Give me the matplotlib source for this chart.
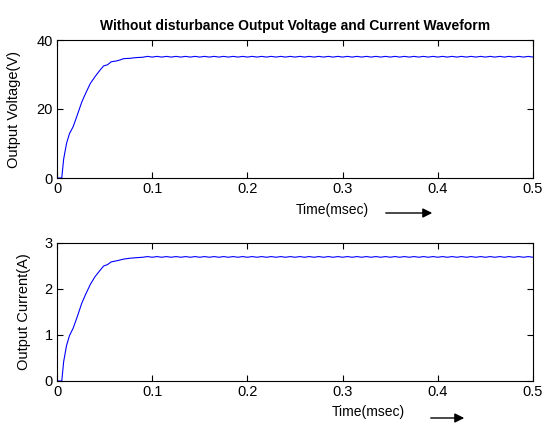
import matplotlib
matplotlib.use("Agg")
import matplotlib.pyplot as plt
import numpy as np

plt.rcParams['font.family'] = ['Liberation Sans', 'DejaVu Sans']

# Rise portion (time in msec)
t_rise = [0.0, 0.003, 0.005, 0.007, 0.010, 0.013, 0.017, 0.021, 0.026, 0.030,
          0.035, 0.040, 0.045, 0.049, 0.053, 0.057, 0.062, 0.066, 0.070, 0.077,
          0.083, 0.090]
v_rise = [0.0, 0.0, 0.0, 5.5, 10.0, 12.8, 14.9, 18.0, 22.0, 24.5,
          27.4, 29.4, 31.2, 32.5, 32.8, 33.7, 33.9, 34.2, 34.6, 34.7,
          34.9, 35.0]
i_rise = [0.0, 0.0, 0.0, 0.42, 0.77, 0.98, 1.15, 1.38, 1.69, 1.88,
          2.10, 2.27, 2.40, 2.50, 2.53, 2.59, 2.61, 2.63, 2.65, 2.67,
          2.68, 2.69]

# Steady-state ripple portion
t_ss = [0.095, 0.100, 0.105, 0.110, 0.115, 0.120, 0.125, 0.130, 0.135, 0.140,
        0.145, 0.150, 0.155, 0.160, 0.165, 0.170, 0.175, 0.180, 0.185, 0.190,
        0.195, 0.200, 0.205, 0.210, 0.215, 0.220, 0.225, 0.230, 0.235, 0.240,
        0.245, 0.250, 0.255, 0.260, 0.265, 0.270, 0.275, 0.280, 0.285, 0.290,
        0.295, 0.300, 0.305, 0.310, 0.315, 0.320, 0.325, 0.330, 0.335, 0.340,
        0.345, 0.350, 0.355, 0.360, 0.365, 0.370, 0.375, 0.380, 0.385, 0.390,
        0.395, 0.400, 0.405, 0.410, 0.415, 0.420, 0.425, 0.430, 0.435, 0.440,
        0.445, 0.450, 0.455, 0.460, 0.465, 0.470, 0.475, 0.480, 0.485, 0.490,
        0.495, 0.500]
v_ss = [35.25, 35.05, 35.25, 35.05, 35.25, 35.05, 35.25, 35.05, 35.25, 35.05,
        35.25, 35.05, 35.25, 35.05, 35.25, 35.05, 35.25, 35.05, 35.25, 35.05,
        35.25, 35.05, 35.25, 35.05, 35.25, 35.05, 35.25, 35.05, 35.25, 35.05,
        35.25, 35.05, 35.25, 35.05, 35.25, 35.05, 35.25, 35.05, 35.25, 35.05,
        35.25, 35.05, 35.25, 35.05, 35.25, 35.05, 35.25, 35.05, 35.25, 35.05,
        35.25, 35.05, 35.25, 35.05, 35.25, 35.05, 35.25, 35.05, 35.25, 35.05,
        35.25, 35.05, 35.25, 35.05, 35.25, 35.05, 35.25, 35.05, 35.25, 35.05,
        35.25, 35.05, 35.25, 35.05, 35.25, 35.05, 35.25, 35.05, 35.25, 35.05,
        35.25, 35.05]
i_ss = [2.705, 2.69, 2.705, 2.69, 2.705, 2.69, 2.705, 2.69, 2.705, 2.69,
        2.705, 2.69, 2.705, 2.69, 2.705, 2.69, 2.705, 2.69, 2.705, 2.69,
        2.705, 2.69, 2.705, 2.69, 2.705, 2.69, 2.705, 2.69, 2.705, 2.69,
        2.705, 2.69, 2.705, 2.69, 2.705, 2.69, 2.705, 2.69, 2.705, 2.69,
        2.705, 2.69, 2.705, 2.69, 2.705, 2.69, 2.705, 2.69, 2.705, 2.69,
        2.705, 2.69, 2.705, 2.69, 2.705, 2.69, 2.705, 2.69, 2.705, 2.69,
        2.705, 2.69, 2.705, 2.69, 2.705, 2.69, 2.705, 2.69, 2.705, 2.69,
        2.705, 2.69, 2.705, 2.69, 2.705, 2.69, 2.705, 2.69, 2.705, 2.69,
        2.705, 2.69]

t = t_rise + t_ss
v = v_rise + v_ss
cur = i_rise + i_ss

xticks = [0, 0.1, 0.2, 0.3, 0.4, 0.5]
xticklabels = ['0', '0.1', '0.2', '0.3', '0.4', '0.5']
v_yticks = [0, 20, 40]
i_yticks = [0, 1, 2, 3]

W, H = 543, 426
fig = plt.figure(figsize=(W / 100, H / 100), dpi=100)

def ax_at(l, r, top, bot):
    return fig.add_axes([l / W, 1 - bot / H, (r - l) / W, (bot - top) / H])

ax1 = ax_at(57, 533, 40, 178)
ax2 = ax_at(57, 533, 243, 381)

for ax, y, yt, ylim, lab, lx in [(ax1, v, v_yticks, (0, 40), 'Output Voltage(V)', 21),
                                 (ax2, cur, i_yticks, (0, 3), 'Output Current(A)', 31)]:
    ax.plot(t, y, color='#0000ff', lw=0.8)
    ax.set_xlim(0, 0.5)
    ax.set_ylim(*ylim)
    ax.set_xticks(xticks)
    ax.set_xticklabels(xticklabels)
    ax.set_yticks(yt)
    ax.tick_params(direction='in', top=True, right=True, labelsize=10.5,
                   length=4, width=0.8, pad=3)
    ax.set_ylabel(lab, fontsize=10.5)
    ax.yaxis.set_label_coords((lx - 57) / 476, 0.5)
    for s in ax.spines.values():
        s.set_linewidth(0.8)

ax1.set_title('Without disturbance Output Voltage and Current Waveform',
              fontsize=10, fontweight='bold', pad=7)

fig.text(332 / W, 1 - 210 / H, 'Time(msec)', fontsize=10, ha='center', va='center')
fig.text(368 / W, 1 - 412 / H, 'Time(msec)', fontsize=10, ha='center', va='center')

fig.add_artist(matplotlib.patches.FancyArrowPatch(
    (383 / W, 1 - 213 / H), (435 / W, 1 - 213 / H), transform=fig.transFigure,
    arrowstyle='-|>', mutation_scale=14, color='black', lw=1.0))
fig.add_artist(matplotlib.patches.FancyArrowPatch(
    (428 / W, 1 - 418 / H), (467 / W, 1 - 418 / H), transform=fig.transFigure,
    arrowstyle='-|>', mutation_scale=14, color='black', lw=1.0))

fig.savefig('out.png', dpi=100)
